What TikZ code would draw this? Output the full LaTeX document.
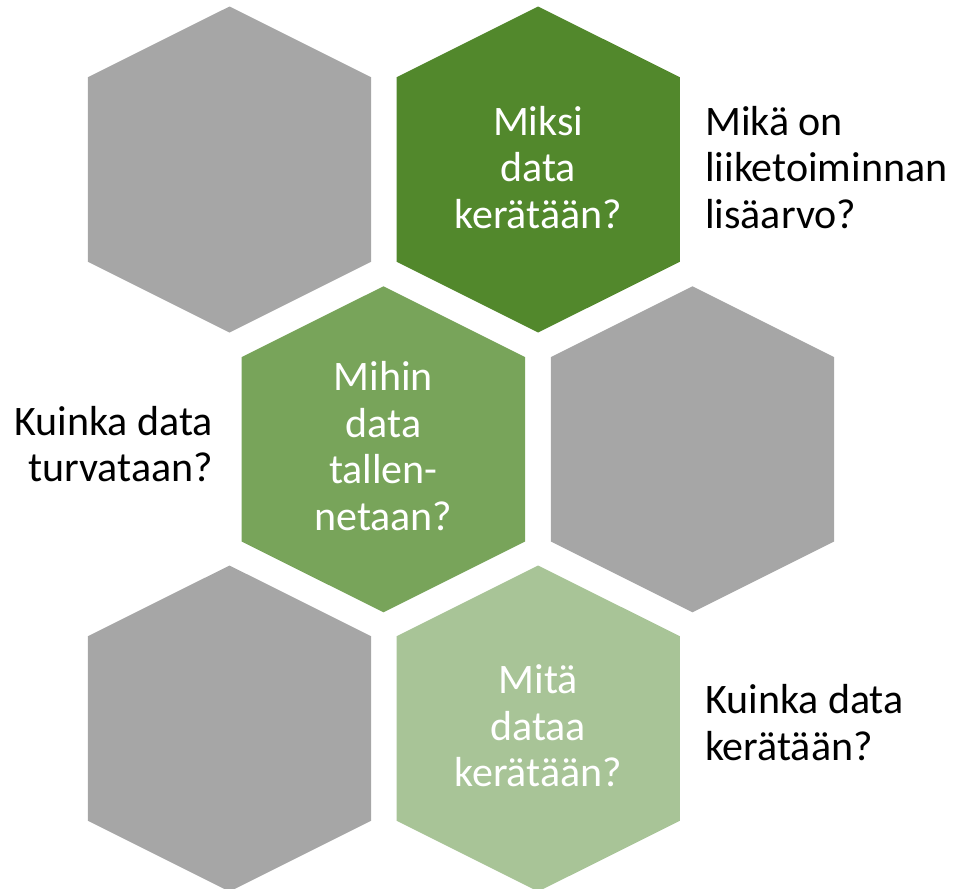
\documentclass[tikz,border=0pt]{standalone}
\usepackage{fontspec}
\setmainfont{Carlito}
\definecolor{hexgray}{RGB}{166,166,166}
\definecolor{hexdark}{RGB}{82,136,44}
\definecolor{hexmid}{RGB}{120,164,90}
\definecolor{hexlight}{RGB}{168,196,151}
\newcommand{\hexshape}[3]{%
  \fill[#3] (#1,#2) ++(0,-163) -- ++(141.7,70.8) -- ++(0,184.4) -- ++(-141.7,70.8)
    -- ++(-141.7,-70.8) -- ++(0,-184.4) -- cycle;}
\tikzset{
  hextext/.style={text=white, align=center, anchor=base, inner sep=0pt,
    font=\fontsize{42}{46.5}\selectfont},
  sidetext/.style={text=black, anchor=base west, inner sep=0pt,
    font=\fontsize{42}{46.5}\selectfont}
}
\begin{document}
\begin{tikzpicture}[x=1pt,y=-1pt]
\useasboundingbox (0,0) rectangle (956,889);
\hexshape{229.5}{169.5}{hexgray}
\hexshape{538.2}{169.5}{hexdark}
\hexshape{383.4}{449.3}{hexmid}
\hexshape{692.5}{449.3}{hexgray}
\hexshape{229.5}{728.5}{hexgray}
\hexshape{538.2}{728.5}{hexlight}
% base anchor of a multi-line node = baseline of its last line
\node[hextext] (miksi) at (538.2,228) {Miksi\\data\\kerätään?};
\node[hextext] (mihin) at (383.4,530) {Mihin\\data\\tallen-\\netaan?};
\node[hextext] (mita) at (538.2,786.7) {Mitä\\dataa\\kerätään?};
\node[sidetext, align=left] (lisaarvo) at (705,228) {Mikä on\\liiketoiminnan\\lisäarvo?};
\node[sidetext, align=right, anchor=base east] (turvataan) at (213,481.7) {Kuinka data\\turvataan?};
\node[sidetext, align=left] (keraataan) at (705,760) {Kuinka data\\kerätään?};
\end{tikzpicture}
\end{document}
